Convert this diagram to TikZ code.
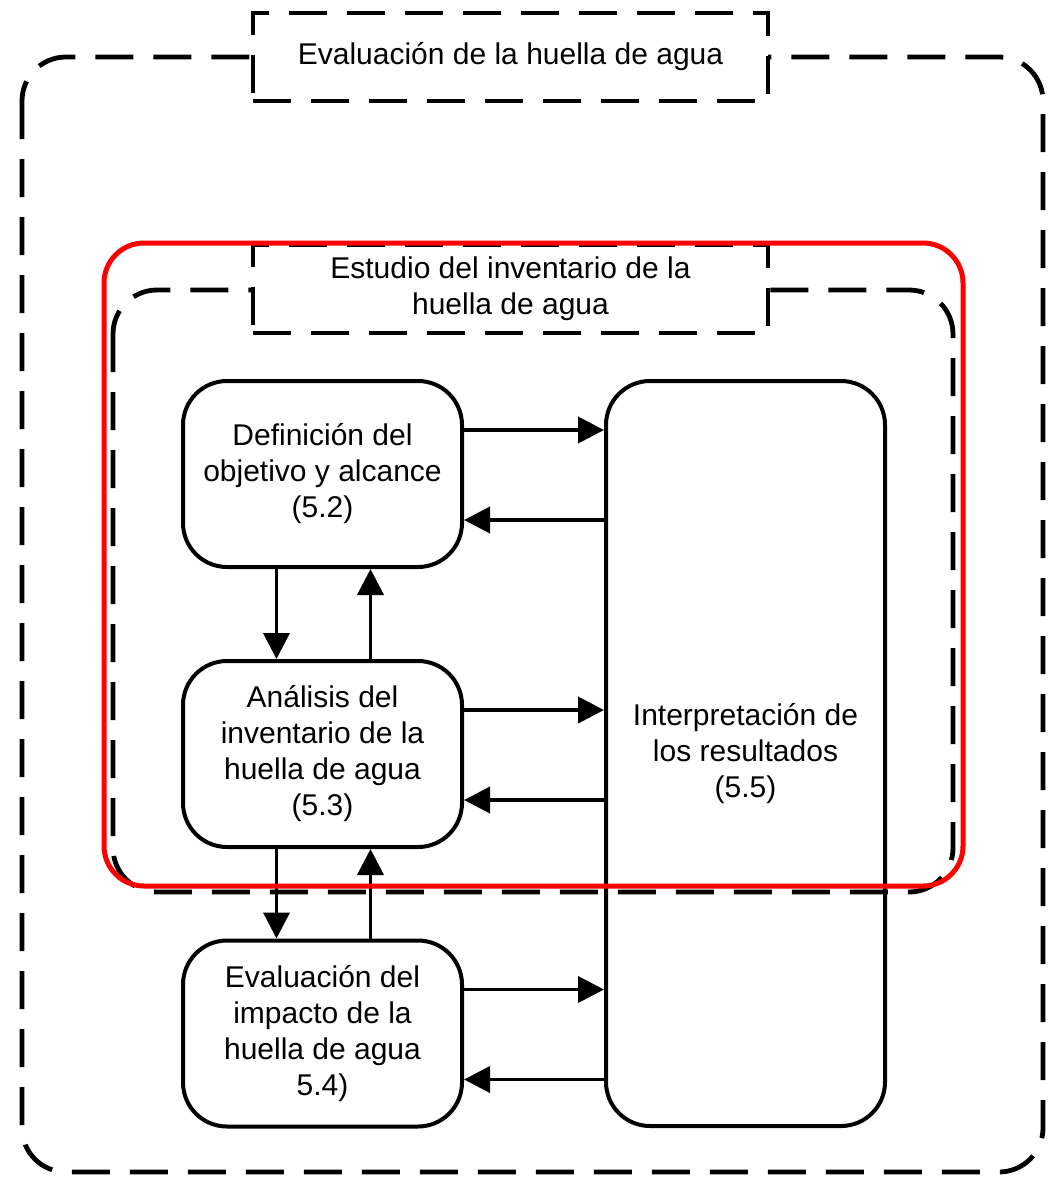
\documentclass[tikz,border=0pt]{standalone}
\usepackage{fontspec}
\setmainfont{Liberation Sans}
\usetikzlibrary{arrows.meta,calc}
\begin{document}
\begin{tikzpicture}[x=0.5pt,y=-0.5pt,
  txt/.style={font=\fontsize{15}{18}\selectfont},
  box/.style={draw,line width=2pt,rounded corners=22pt,minimum width=139.5pt,minimum height=93pt,inner sep=0pt,align=center,txt},
  arr/.style={line width=1.9pt,-{Triangle[length=13pt,width=13pt]}},
  dsh/.style={line width=2.4pt,dash pattern=on 19pt off 10pt},
  ttl/.style={draw,fill=white,dsh,minimum width=257.5pt,minimum height=44pt,inner sep=0pt,align=center,txt}]
\fill[white] (0,0) rectangle (1052,1177);
% outer dashed frame
\draw[dsh,rounded corners=22pt] (22,57) rectangle (1043,1172);
\node[ttl] (t1) at (510.5,57) {Evaluación de la huella de agua};
% inner dashed frame
\draw[dsh,rounded corners=22pt] (113,290) rectangle (953,892);
\node[ttl] (t2) at (510.5,289) {Estudio del inventario de la\\huella de agua};
% boxes
\node[box] (d1) at (322.5,474) {Definición del\\objetivo y alcance\\(5.2)};
\node[box] (d2) at (322.5,754) {Análisis del\\inventario de la\\huella de agua\\(5.3)};
\node[box] (d3) at (322.5,1033.5) {Evaluación del\\impacto de la\\huella de agua\\5.4)};
\node[box,minimum height=372.5pt] (ip) at (745.5,753.5) {Interpretación de\\los resultados\\(5.5)};
% horizontal arrows
\foreach \n in {d1,d2,d3}{
  \coordinate (\n o) at ([yshift=22pt]\n.east);
  \coordinate (\n b) at ([yshift=-23pt]\n.east);
  \draw[arr] (\n o) -- (\n o -| ip.west);
  \draw[arr] (\n b -| ip.west) -- (\n b);
}
% vertical arrows
\draw[arr] ([xshift=-23pt]d1.south) -- ([xshift=-23pt]d2.north);
\draw[arr] ([xshift=24pt]d2.north) -- ([xshift=24pt]d1.south);
\draw[arr] ([xshift=-23pt]d2.south) -- ([xshift=-23pt]d3.north);
\draw[arr] ([xshift=24pt]d3.north) -- ([xshift=24pt]d2.south);
% red highlight
\draw[red,line width=2.5pt,rounded corners=20pt] (104,243) rectangle (963,886);
\end{tikzpicture}
\end{document}
